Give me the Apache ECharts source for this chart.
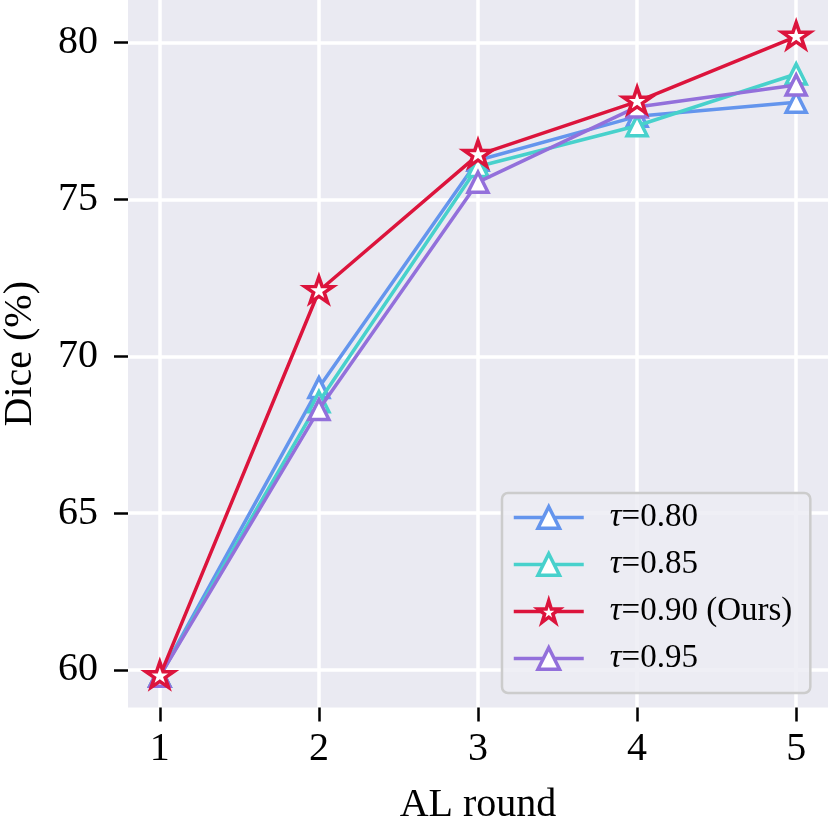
<!DOCTYPE html>
<html>
<head>
<meta charset="utf-8">
<script src="https://cdn.jsdelivr.net/npm/echarts@6/dist/echarts.min.js"></script>
<style>
html,body{margin:0;padding:0;background:#fff;}
#chart{width:831px;height:824px;}
</style>
</head>
<body>
<div id="chart"></div>
<script>
const rounds = [1, 2, 3, 4, 5];
const yTicks = [60, 65, 70, 75, 80];
const seriesNames = ['0.80', '0.85', '0.90 (Ours)', '0.95'];
const tau080 = [59.8, 69.0, 76.25, 77.65, 78.1];
const tau085 = [59.8, 68.55, 76.05, 77.35, 79.0];
const tau090 = [59.8, 72.08, 76.42, 78.12, 80.19];
const tau095 = [59.8, 68.3, 75.55, 77.95, 78.65];

const colors = ['#6495ED', '#48D1CC', '#DC143C', '#9370DB'];
const starPath = 'path://M0,-1000 L224.5,-309 L951,-309 L363,118 L588,809 L0,382 L-588,809 L-363,118 L-951,-309 L-224.5,-309 Z';
const FONT = '"Liberation Serif", "Times New Roman", serif';

function pairs(vals) { return rounds.map((r, i) => [r, vals[i]]); }

function mkSeries(name, vals, color, isStar, z) {
  return {
    name: name,
    type: 'line',
    data: pairs(vals),
    z: z,
    symbol: isStar ? starPath : 'triangle',
    symbolSize: isStar ? [28, 26.6] : 20,
    symbolKeepAspect: true,
    symbolOffset: isStar ? [0, -1.4] : [0, 0],
    showAllSymbol: true,
    lineStyle: { color: color, width: 3.5 },
    itemStyle: { color: '#ffffff', borderColor: color, borderWidth: 3.5 },
    emphasis: { disabled: true },
    animation: false
  };
}

const chart = echarts.init(document.getElementById('chart'), null, { renderer: 'canvas' });
chart.setOption({
  backgroundColor: '#ffffff',
  animation: false,
  grid: {
    left: 128, right: 3, top: 0, bottom: 116.5,
    outerBoundsMode: 'none',
    containLabel: false,
    show: true, backgroundColor: '#EAEAF2', borderWidth: 0
  },
  xAxis: {
    type: 'value',
    min: 0.8, max: 5.2,
    name: 'AL round',
    nameLocation: 'middle',
    nameGap: 78,
    nameTextStyle: { fontFamily: FONT, fontSize: 40, color: '#000' },
    axisLine: { show: false },
    axisTick: { show: true, customValues: rounds, length: 14, lineStyle: { color: '#000', width: 2.5 } },
    axisLabel: { customValues: rounds, fontFamily: FONT, fontSize: 40, color: '#000', margin: 22 },
    splitLine: { show: true, lineStyle: { color: '#ffffff', width: 3.5 } }
  },
  yAxis: {
    type: 'value',
    min: 58.8, max: 81.36,
    name: 'Dice (%)',
    nameLocation: 'middle',
    nameGap: 88,
    nameTextStyle: { fontFamily: FONT, fontSize: 40, color: '#000' },
    axisLine: { show: false },
    axisTick: { show: true, customValues: yTicks, length: 14, lineStyle: { color: '#000', width: 2.5 } },
    axisLabel: { customValues: yTicks, fontFamily: FONT, fontSize: 40, color: '#000', margin: 30 },
    splitLine: { show: true, lineStyle: { color: '#ffffff', width: 3.5 } }
  },
  legend: {
    orient: 'vertical',
    left: 502, top: 493,
    padding: [8, 18, 18, 10],
    itemWidth: 70, itemHeight: 27,
    itemGap: 14,
    backgroundColor: 'rgba(236,236,243,0.85)',
    borderColor: '#cccccc', borderWidth: 2.5, borderRadius: 6,
    lineStyle: { width: 3.5 },
    itemStyle: { borderWidth: 3.5 },
    data: ['τ=0.80', 'τ=0.85', 'τ=0.90 (Ours)', 'τ=0.95'],
    formatter: function (n) { return '{i|τ}{t|' + n.slice(1) + '}'; },
    textStyle: {
      fontFamily: FONT, fontSize: 33, color: '#000',
      rich: {
        i: { fontFamily: FONT, fontSize: 33, fontStyle: 'italic', color: '#000', padding: [0, 0, 0, 21] },
        t: { fontFamily: FONT, fontSize: 33, color: '#000' }
      }
    }
  },
  series: [
    mkSeries('τ=' + seriesNames[0], tau080, colors[0], false, 2),
    mkSeries('τ=' + seriesNames[1], tau085, colors[1], false, 3),
    mkSeries('τ=' + seriesNames[2], tau090, colors[2], true, 5),
    mkSeries('τ=' + seriesNames[3], tau095, colors[3], false, 4)
  ]
});
</script>
</body>
</html>
